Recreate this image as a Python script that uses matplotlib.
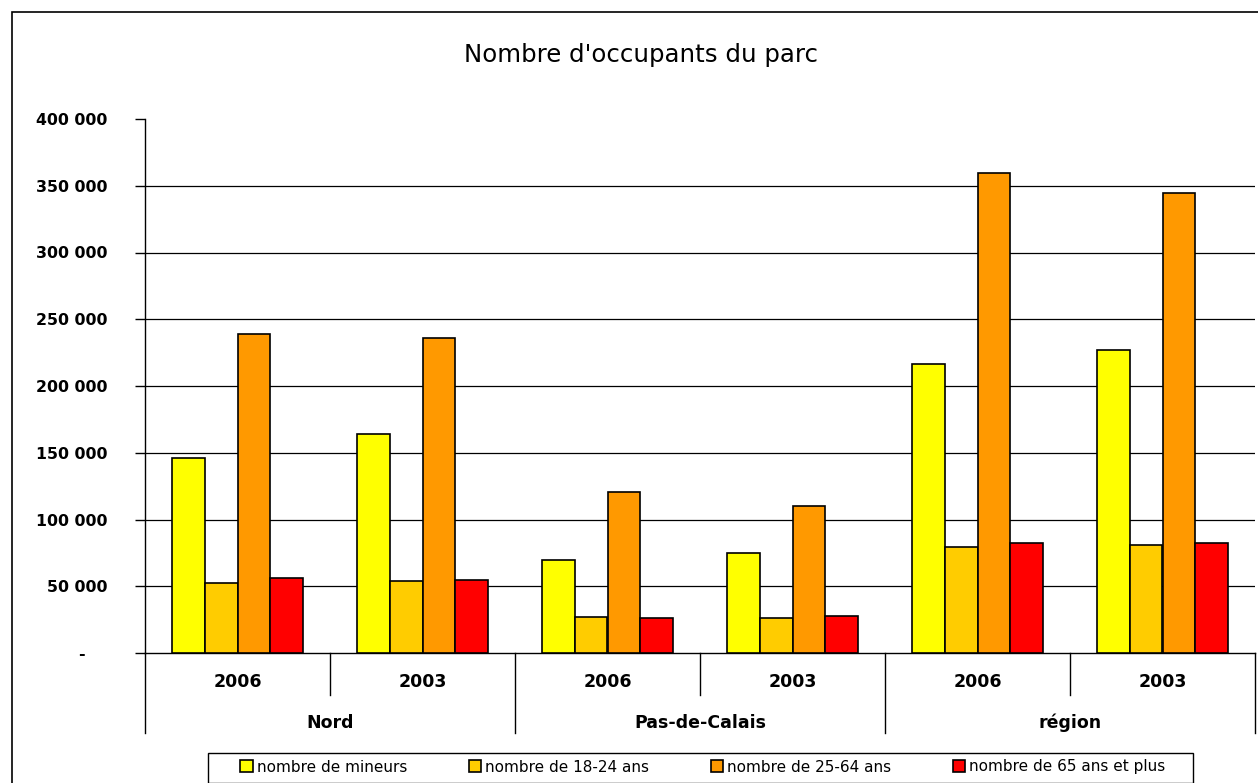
import matplotlib
matplotlib.use('Agg')
import matplotlib.pyplot as plt
import numpy as np
from matplotlib.patches import Rectangle
from matplotlib.lines import Line2D

# Data
regions = ['Nord', 'Pas-de-Calais', 'région']
years = ['2006', '2003']
series_names = ['nombre de mineurs', 'nombre de 18-24 ans',
                'nombre de 25-64 ans', 'nombre de 65 ans et plus']
mineurs = [146000, 164000, 70000, 75000, 216500, 227000]
ans_18_24 = [52500, 54000, 27000, 26300, 79500, 80800]
ans_25_64 = [239000, 236000, 120500, 110200, 359500, 344500]
ans_65_plus = [56200, 54700, 26300, 27700, 82400, 82400]
colors = ['#FFFF00', '#FFCC00', '#FF9900', '#FF0000']
yticks = [0, 50000, 100000, 150000, 200000, 250000, 300000, 350000, 400000]

W, H = 1258, 783
fig = plt.figure(figsize=(W / 100, H / 100), dpi=100)
ax = fig.add_axes([145 / W, 1 - 653 / H, 1110 / W, 534 / H])

n_cat = len(regions) * len(years)
x = np.arange(n_cat)
bw = 0.178
all_series = [mineurs, ans_18_24, ans_25_64, ans_65_plus]
for i, (vals, c, name) in enumerate(zip(all_series, colors, series_names)):
    ax.bar(x + (i - 1.5) * bw, vals, width=bw, color=c, edgecolor='black',
           linewidth=1.2, label=name, zorder=3)

ax.set_xlim(-0.5, n_cat - 0.5)
ax.set_ylim(0, 400000)
ax.set_yticks(yticks)
# Excel accounting format: zero shown as a dash with trailing padding
ax.set_yticklabels(['-    ' if v == 0 else f'{v:,}'.replace(',', ' ') for v in yticks],
                   fontweight='bold', fontsize=11.3)
ax.tick_params(axis='y', direction='out', length=7, width=1, pad=20)
ax.set_xticks([])
for v in yticks[1:-1]:
    ax.axhline(v, color='black', lw=0.9, zorder=1)
for s in ['top', 'right']:
    ax.spines[s].set_visible(False)
ax.spines['left'].set_linewidth(1)
ax.spines['bottom'].set_linewidth(1)

# two-level category labels below the axis
trans = ax.get_xaxis_transform()
for k in range(n_cat):
    ax.text(k, -29 / 534, years[k % 2], transform=trans, ha='center', va='center',
            fontweight='bold', fontsize=12.5)
for r, name in enumerate(regions):
    ax.text(2 * r + 0.5, -70 / 534, name, transform=trans, ha='center', va='center',
            fontweight='bold', fontsize=12.5)
for k in range(n_cat + 1):
    bound = k - 0.5
    depth = -42 / 534 if k % 2 == 1 else -80 / 534
    ax.add_line(Line2D([bound, bound], [0, depth], transform=trans, color='black',
                       lw=1, clip_on=False))

fig.text(641 / W, 1 - 55 / H, "Nombre d'occupants du parc", ha='center', va='center',
         fontsize=17.6)

leg = fig.legend(loc='center', bbox_to_anchor=(703 / W, 1 - 767 / H), ncol=4,
                 fontsize=11, frameon=False,
                 handlelength=0.8, handleheight=0.8, handletextpad=0.3,
                 columnspacing=4.0, borderpad=0, borderaxespad=0)
for h in leg.legend_handles:
    h.set_linewidth(1.2)

# legend box
fig.patches.append(Rectangle((208 / W, 1 - 783 / H), 985 / W, 30 / H, transform=fig.transFigure,
                             fill=False, edgecolor='black', lw=1))
# chart border
fig.patches.append(Rectangle((12 / W, -0.1), 1.2, 1 - 12 / H + 0.1, transform=fig.transFigure,
                             fill=False, edgecolor='black', lw=1.2))

fig.savefig('out.png', dpi=100)
